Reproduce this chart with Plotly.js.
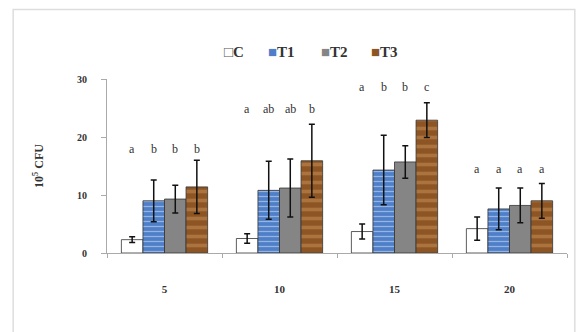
<!DOCTYPE html>
<html><head><meta charset="utf-8">
<script src="https://cdn.plot.ly/plotly-3.0.1.min.js"></script>
<style>html,body{margin:0;padding:0;background:#fff;}#chart{width:580px;height:332px;}</style>
</head><body><div id="chart"></div>
<script>
const categories = ["5", "10", "15", "20"];
const seriesNames = ["C", "T1", "T2", "T3"];
const valuesC  = [2.3, 2.5, 3.7, 4.2];
const valuesT1 = [9.0, 10.8, 14.3, 7.6];
const valuesT2 = [9.3, 11.2, 15.7, 8.2];
const valuesT3 = [11.4, 15.9, 22.9, 9.0];
const errC  = [0.5, 0.8, 1.3, 2.0];
const errT1 = [3.6, 5.0, 6.0, 3.6];
const errT2 = [2.4, 5.0, 2.8, 3.0];
const errT3 = [4.6, 6.3, 3.0, 3.0];
const lettersC  = ["a", "a", "a", "a"];
const lettersT1 = ["b", "ab", "b", "a"];
const lettersT2 = ["b", "ab", "b", "a"];
const lettersT3 = ["b", "b", "c", "a"];
const letterHeights = [18.0, 24.9, 28.6, 14.5];

const values = [valuesC, valuesT1, valuesT2, valuesT3];
const errs = [errC, errT1, errT2, errT3];
const letters = [lettersC, lettersT1, lettersT2, lettersT3];

const styles = [
  {color: "#ffffff", pattern: {shape: ""}},
  {color: "#4f7fc8", pattern: {shape: "-", fgcolor: "#dfe8f7", size: 5, solidity: 0.25, fillmode: "overlay"}},
  {color: "#858585", pattern: {shape: ""}},
  {color: "#8d5524", pattern: {shape: "-", fgcolor: "#c99155", size: 9, solidity: 0.4, fillmode: "overlay"}}
];

const traces = seriesNames.map((name, k) => ({
  type: "bar",
  name: name,
  x: categories,
  y: values[k],
  showlegend: false,
  marker: {color: styles[k].color, pattern: styles[k].pattern, line: {color: "#333", width: 0.8}},
  error_y: {type: "data", array: errs[k], visible: true, color: "#111", thickness: 1.5, width: 3}
}));

const bargap = 0.25;
const bw = (1 - bargap) / 4;
const annotations = [];
categories.forEach((c, i) => {
  seriesNames.forEach((s, k) => {
    annotations.push({
      x: i + (k - 1.5) * bw, y: letterHeights[i], xref: "x", yref: "y",
      text: letters[k][i], showarrow: false,
      font: {family: "Liberation Serif, Times New Roman, serif", size: 12, color: "#333"}
    });
  });
});

// compact legend, as in the reference (key square right before each name)
const legendX = [0.25, 0.346, 0.461, 0.57];
seriesNames.forEach((n, k) => {
  annotations.push({
    x: legendX[k], y: 1.155, xref: "paper", yref: "paper", xanchor: "left", yanchor: "middle",
    text: (k === 0 ? '<span style="color:#555">□</span>' : '<span style="color:' + styles[k].color + '">■</span>') + n,
    showarrow: false,
    font: {family: "Liberation Serif, Times New Roman, serif", size: 15, color: "#333", weight: "bold"}
  });
});

const layout = {
  width: 580, height: 332,
  margin: {l: 107, r: 13, t: 79, b: 79},
  paper_bgcolor: "#fff", plot_bgcolor: "#fff",
  barmode: "group", bargap: bargap, bargroupgap: 0,
  font: {family: "Liberation Serif, Times New Roman, serif", color: "#333"},
  showlegend: false,
  xaxis: {type: "category", showline: true, linecolor: "#aaa", linewidth: 1,
          ticks: "outside", tickson: "boundaries", ticklen: 4, tickcolor: "#aaa",
          ticklabelstandoff: 26, tickfont: {size: 11, color: "#333", weight: "bold"}, showgrid: false, zeroline: false},
  yaxis: {range: [0, 30], dtick: 10, showline: true, linecolor: "#aaa", linewidth: 1,
          ticks: "outside", ticklen: 5, tickcolor: "#aaa", showgrid: false, zeroline: false,
          ticklabelstandoff: 12, tickfont: {size: 10, color: "#333", weight: "bold"},
          title: {text: "10<sup>5</sup> CFU", standoff: 30, font: {size: 12, color: "#333", weight: "bold"}}},
  annotations: annotations,
  shapes: [{type: "rect", xref: "paper", yref: "paper", x0: -0.204, x1: 1.017, y0: -0.5, y1: 1.40,
            line: {color: "#dddddd", width: 1.5}, fillcolor: "rgba(0,0,0,0)", layer: "below"}]
};

Plotly.newPlot("chart", traces, layout, {displayModeBar: false, staticPlot: true});
</script></body></html>
